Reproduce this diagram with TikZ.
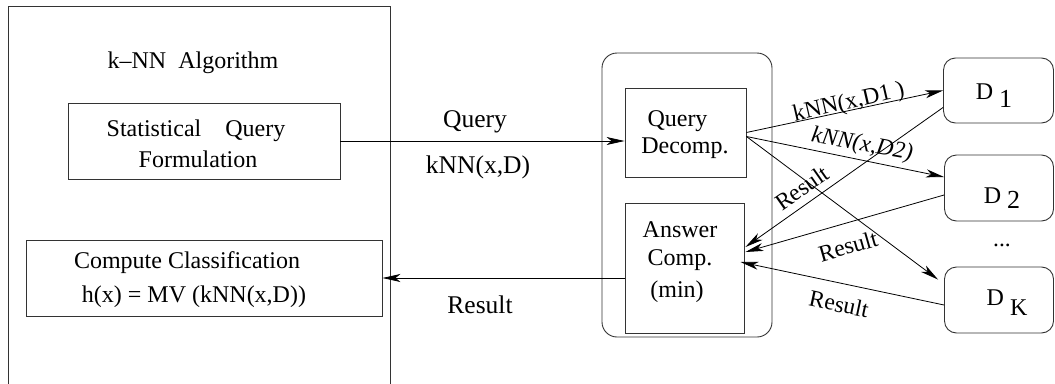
\documentclass[tikz,border=0pt]{standalone}
\usepackage{fontspec}
\setmainfont{Liberation Serif}
\usetikzlibrary{arrows.meta,calc}

\begin{document}
\begin{tikzpicture}[x=1pt,y=-1pt,
  box/.style={draw=black!80, line width=0.9pt, rectangle, inner sep=0pt},
  rbox/.style={box, rounded corners=#1},
  txt/.style={inner sep=0pt, anchor=base, font=\fontsize{24}{28}\selectfont},
  wtxt/.style={txt, font=\fontsize{25.5}{28}\selectfont},
  lbl/.style={inner sep=0pt, font=\fontsize{23.5}{28}\selectfont},
  arr/.style={draw=black, line width=0.8pt, -{Stealth[length=18pt,width=8pt,inset=5pt]}},
]
\useasboundingbox (0,0) rectangle (1055,383);

% client side: the k-NN algorithm
\node[box, minimum width=382pt, minimum height=392pt] (alg) at (199,202) {};
\node[txt] (algt) at (193,68) {k--NN\hspace{12pt}Algorithm};
\node[box, minimum width=272pt, minimum height=76pt] (st) at (204,141) {};
\node[txt] (st1) at (196,136) {Statistical\hspace{24pt}Query};
\node[txt] (st2) at (198,167) {Formulation};
\node[box, minimum width=356pt, minimum height=76pt] (cc) at (204,278) {};
\node[txt] (cc1) at (187,268) {Compute Classification};
\node[txt] (cc2) at (194,302) {h(x) = MV (kNN(x,D))};

% mediator
\node[rbox=15pt, minimum width=170pt, minimum height=284pt] (svc) at (687,195) {};
\node[box, minimum width=121pt, minimum height=89pt] (qd) at (685.5,132.5) {};
\node[txt] (qd1) at (677.5,126) {Query};
\node[txt] (qd2) at (685,153) {Decomp.};
\node[box, minimum width=119pt, minimum height=130pt] (ac) at (684.5,268) {};
\node[txt] (ac1) at (680,237) {Answer};
\node[txt] (ac2) at (680,265) {Comp.};
\node[txt] (ac3) at (677,297) {(min)};

% data sources
\node[rbox=12pt, minimum width=110pt, minimum height=65pt] (d1) at (998.5,90.5) {};
\node[rbox=12pt, minimum width=109pt, minimum height=66pt] (d2) at (999,188) {};
\node[rbox=12pt, minimum width=109pt, minimum height=66pt] (dk) at (999,300) {};
\node[txt] (d1t) at (994,99) {D\hspace{6pt}\raisebox{-8pt}{\fontsize{26}{28}\selectfont 1}};
\node[txt] (d2t) at (1002,203) {D\hspace{6pt}\raisebox{-5pt}{\fontsize{26}{28}\selectfont 2}};
\node[txt] (dkt) at (1007,305) {D\hspace{6pt}\raisebox{-10pt}{\fontsize{24}{28}\selectfont K}};
\node[lbl] (dots) at (1002,245) {...};

% query and result between client and mediator
\draw[arr] (st.east) -- (st.east -| qd.west);
\node[wtxt] (ql) at (475,127) {Query};
\node[wtxt] (qk) at (478,173) {kNN(x,D)};
\draw[arr] (ac.west |- cc.east) -- (cc.east);
\node[wtxt] (rl) at (480,313) {Result};

% sub-queries to the sources
\draw[arr] (qd.east) -- (d1.west);
\draw[arr] ($(qd.east)+(0,4)$) -- ($(d2.west)+(0,-11)$);
\draw[arr] ($(qd.east)+(0,4)$) -- ($(dk.north west)+(-6,13)$);
\node[lbl, rotate=13] (k1) at (849,103) {kNN(x,D1 )};
\node[lbl, rotate=-10, font=\fontsize{23.5}{28}\selectfont\itshape] (k2) at (862,145) {kNN(x,D2)};

% partial results back to the mediator
\draw[arr] ($(d1.west)+(0,17)$) -- ($(ac.east)+(1,-21)$);
\draw[arr] ($(d2.west)+(0,7)$) -- ($(ac.east)+(1,-16)$);
\draw[arr] ($(dk.west)+(0,5)$) -- ($(ac.east)+(-4,-6)$);
\node[lbl, rotate=35] (r1) at (802,188) {Result};
\node[lbl, rotate=16] (r2) at (848,246) {Result};
\node[lbl, rotate=-12] (r3) at (839,304) {Result};
\end{tikzpicture}
\end{document}
